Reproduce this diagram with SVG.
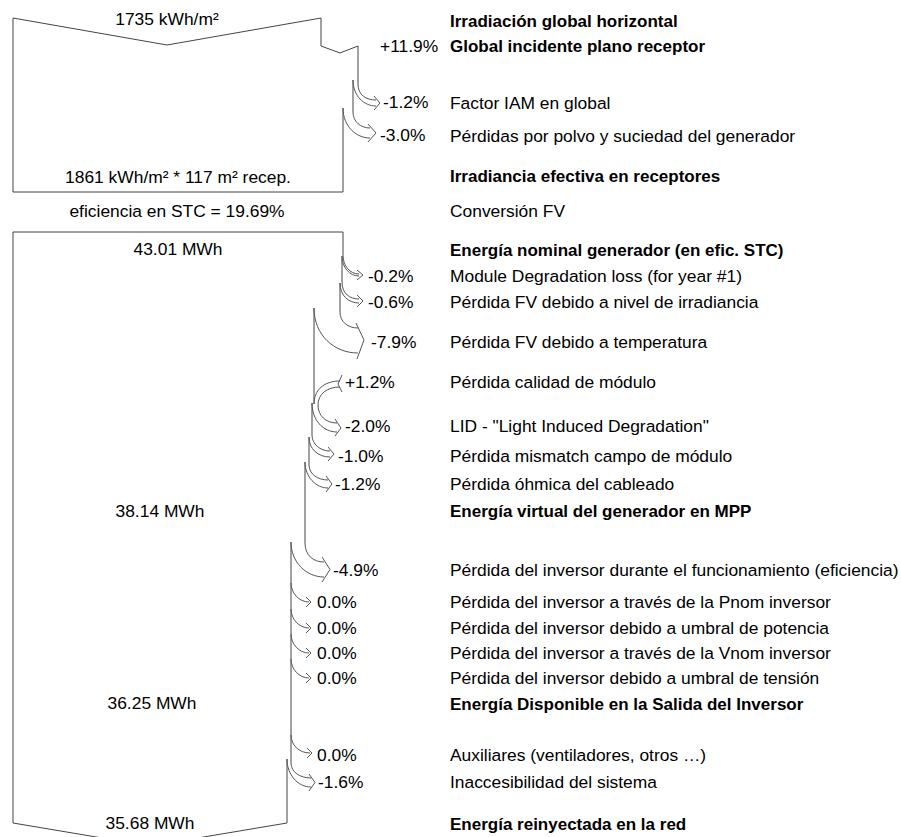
<svg xmlns="http://www.w3.org/2000/svg" width="901" height="837" viewBox="0 0 901 837">
<style>
text{font-family:"Liberation Sans",Arial,sans-serif;fill:#000}
.r{font-size:17.4px}
.b{font-size:17px;font-weight:bold}
.v{font-size:17.4px;text-anchor:middle}
.p{font-size:17.4px}
.e{fill:none;stroke:#444;stroke-width:1}
.a{fill:none;stroke:#555;stroke-width:1}
</style>
<rect width="901" height="837" fill="#fff"/>
<g id="box-irradiance">
<path class="e" d="M13,18 L167,45 L321,18 L321,46 L340,53 L358,46 L358,84"/>
<path class="e" d="M353,80 L353,112"/>
<path class="e" d="M343,108 L343,192 L13,192 L13,18"/>
<text class="v" x="167" y="25">1735 kWh/m²</text>
<text class="v" x="178" y="183">1861 kWh/m² * 117 m² recep.</text>
</g>
<g id="conversion">
<text class="v" x="177" y="217">eficiencia en STC = 19.69%</text>
</g>
<g id="box-energy">
<path class="e" d="M343,255 L343,232 L13,232 L13,823 L150,846 L287,823 L287,759"/>
<path class="e" d="M342,256 L342,282"/>
<path class="e" d="M340,283 L340,312"/>
<path class="e" d="M314,308 L314,404"/>
<path class="e" d="M312,403 L312,435"/>
<path class="e" d="M309,437 L309,465"/>
<path class="e" d="M305,462 L305,543"/>
<path class="e" d="M291,542 L291,763"/>
<text class="v" x="178" y="255">43.01 MWh</text>
<text class="v" x="160" y="517">38.14 MWh</text>
<text class="v" x="152" y="709">36.25 MWh</text>
<text class="v" x="150" y="829">35.68 MWh</text>
</g>
<g id="connectors">
<!-- IAM -->
<path class="a" d="M358,84 C358,95 366,100 376,100 M353,80 C353,96 364,106 376,106 M374,96 L380,103 L374,110"/>
<!-- soiling -->
<path class="a" d="M353,112 C353,122 361,128 370,128 M343,108 C343,126 356,138 370,138 M368,124 L376,133 L368,142"/>
<!-- degradation -->
<path class="a" d="M343,255 C343,266 350,274 359,274 M342,256 C342,268 350,276 359,276 M357,270 L363,275 L357,280"/>
<!-- irradiance level -->
<path class="a" d="M342,282 C342,294 350,299 359,299 M340,283 C340,296 349,303 359,303 M357,295 L363,301 L357,307"/>
<!-- temperature -->
<path class="a" d="M340,312 C340,322 348,328 358,328 M314,308 C314,335 334,353 358,353 M356,323 L364,340 L357,359"/>
<!-- module quality gain -->
<path class="a" d="M340,381 C324,381 314,390 314,404 M340,387 C327,387 318,394 318,405 M342,375 L338,384 L342,392"/>
<!-- LID -->
<path class="a" d="M318,405 C318,416 326,423 337,423 M312,403 C312,420 323,432 337,432 M335,419 L341,428 L335,436"/>
<!-- mismatch -->
<path class="a" d="M312,435 C312,444 320,451 330,451 M309,437 C309,449 318,457 330,457 M328,447 L334,454 L328,461"/>
<!-- ohmic -->
<path class="a" d="M309,465 C309,474 318,480 328,480 M305,462 C305,477 316,488 328,488 M326,476 L332,484 L326,492"/>
<!-- inverter efficiency -->
<path class="a" d="M305,543 C305,555 313,562 324,562 M291,542 C291,562 306,577 324,577 M322,557 L330,569.5 L322,582"/>
<!-- inverter zero losses -->
<path class="a" d="M291,583 C291,593 299,602 309,602 M306,597 L311,602 L306,607"/>
<path class="a" d="M291,609 C291,619 299,628 309,628 M306,623 L311,628 L306,633"/>
<path class="a" d="M291,634 C291,644 299,653 309,653 M306,648 L311,653 L306,658"/>
<path class="a" d="M291,659 C291,669 299,678 309,678 M306,673 L311,678 L306,683"/>
<!-- auxiliaries -->
<path class="a" d="M291,735 C291,745 299,753 310,753 M307,748 L312,753 L307,758"/>
<!-- unavailability -->
<path class="a" d="M291,763 C291,772 300,778 311,778 M287,759 C287,775 298,787 311,787 M309,774 L315,782.5 L309,791"/>
</g>
<g id="percentages">
<text class="p" x="380" y="52">+11.9%</text>
<text class="p" x="383" y="108">-1.2%</text>
<text class="p" x="380" y="141">-3.0%</text>
<text class="p" x="368" y="282">-0.2%</text>
<text class="p" x="368" y="308">-0.6%</text>
<text class="p" x="371" y="348">-7.9%</text>
<text class="p" x="345" y="388">+1.2%</text>
<text class="p" x="345" y="432">-2.0%</text>
<text class="p" x="338" y="462">-1.0%</text>
<text class="p" x="335" y="490">-1.2%</text>
<text class="p" x="333" y="576">-4.9%</text>
<text class="p" x="317" y="608">0.0%</text>
<text class="p" x="317" y="634">0.0%</text>
<text class="p" x="317" y="659">0.0%</text>
<text class="p" x="317" y="684">0.0%</text>
<text class="p" x="317" y="761">0.0%</text>
<text class="p" x="318" y="788">-1.6%</text>
</g>
<g id="labels">
<text class="b" x="450" y="27">Irradiación global horizontal</text>
<text class="b" x="450" y="52">Global incidente plano receptor</text>
<text class="r" x="450" y="109">Factor IAM en global</text>
<text class="r" x="450" y="142">Pérdidas por polvo y suciedad del generador</text>
<text class="b" x="450" y="182">Irradiancia efectiva en receptores</text>
<text class="r" x="450" y="217">Conversión FV</text>
<text class="b" x="450" y="256">Energía nominal generador (en efic. STC)</text>
<text class="r" x="450" y="282">Module Degradation loss (for year #1)</text>
<text class="r" x="450" y="308">Pérdida FV debido a nivel de irradiancia</text>
<text class="r" x="450" y="348">Pérdida FV debido a temperatura</text>
<text class="r" x="450" y="388">Pérdida calidad de módulo</text>
<text class="r" x="450" y="432">LID - "Light Induced Degradation"</text>
<text class="r" x="450" y="462">Pérdida mismatch campo de módulo</text>
<text class="r" x="450" y="490">Pérdida óhmica del cableado</text>
<text class="b" x="450" y="517">Energía virtual del generador en MPP</text>
<text class="r" x="450" y="576">Pérdida del inversor durante el funcionamiento (eficiencia)</text>
<text class="r" x="450" y="608">Pérdida del inversor a través de la Pnom inversor</text>
<text class="r" x="450" y="634">Pérdida del inversor debido a umbral de potencia</text>
<text class="r" x="450" y="659">Pérdida del inversor a través de la Vnom inversor</text>
<text class="r" x="450" y="684">Pérdida del inversor debido a umbral de tensión</text>
<text class="b" x="450" y="710">Energía Disponible en la Salida del Inversor</text>
<text class="r" x="450" y="761">Auxiliares (ventiladores, otros …)</text>
<text class="r" x="450" y="788">Inaccesibilidad del sistema</text>
<text class="b" x="450" y="830">Energía reinyectada en la red</text>
</g>
</svg>
